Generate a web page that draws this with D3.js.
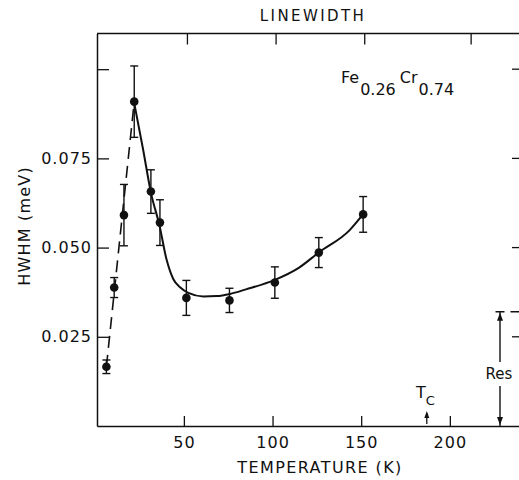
<!DOCTYPE html>
<html>
<head>
<meta charset="utf-8">
<script src="https://cdn.jsdelivr.net/npm/d3@7"></script>
<style>
  body { margin: 0; background: #fff; }
  text { font-family: "DejaVu Sans", sans-serif; fill: #111; }
</style>
</head>
<body>
<script>
// Measured linewidth (HWHM) of Fe0.26Cr0.74 versus temperature
const temperature = [6.3, 10.7, 16.2, 22.0, 31.4, 36.5, 51.4, 75.7, 101.3, 126.1, 151.1];
const hwhm        = [0.0166, 0.0388, 0.0591, 0.0909, 0.0657, 0.0570, 0.0359, 0.0352, 0.0402, 0.0486, 0.0593];
const hwhmErr     = [0.0019, 0.0028, 0.0086, 0.0100, 0.0061, 0.0064, 0.0049, 0.0034, 0.0044, 0.0042, 0.0050];

// Guide-to-the-eye curve through the high-temperature branch
const fitT = [22, 27, 31.5, 36.2, 40.2, 44, 48, 52.5, 61, 68.5, 76, 85, 101, 115, 126, 143.5, 151];
const fitW = [0.0905, 0.0775, 0.0652, 0.0563, 0.0467, 0.0412, 0.0388, 0.0373, 0.0363, 0.0364, 0.0370, 0.0383, 0.0409, 0.0444, 0.0486, 0.0549, 0.0593];

// Axis ticks
const xTicks = [50, 100, 150, 200];
const topTicks = [52, 102, 152, 212];
const yTicks = [0.025, 0.05, 0.075, 0.1];
const yLabelled = [0.025, 0.05, 0.075];

// Instrumental resolution and Curie temperature markers
const resolution = 0.032;
const curieT = 187;

const W = 519, H = 480;
const svg = d3.select("body").append("svg").attr("width", W).attr("height", H);

const x = d3.scaleLinear().domain([1, 239]).range([97, 519]);
const y = d3.scaleLinear().domain([0, 0.11]).range([426, 33.5]);

const ink = "#111";

// Bottom axis with inward ticks
const gx = svg.append("g").attr("transform", `translate(0,${y(0)})`)
  .call(d3.axisBottom(x).tickValues(xTicks).tickSize(-10).tickSizeOuter(0).tickPadding(11)
        .tickFormat(d3.format("d")));
gx.selectAll("text").style("font-size", "16px").style("letter-spacing", "1px");

// Left axis with inward ticks
const gy = svg.append("g").attr("transform", `translate(${x(1)},0)`)
  .call(d3.axisLeft(y).tickValues(yTicks).tickSize(-12).tickSizeOuter(0).tickPadding(5)
        .tickFormat(d => yLabelled.includes(d) ? d3.format(".3f")(d) : ""));
gy.selectAll("text").style("font-size", "16px").style("letter-spacing", "1px");

[gx, gy].forEach(g => {
  g.select(".domain").attr("stroke", ink).attr("stroke-width", 1.5);
  g.selectAll(".tick line").attr("stroke", ink).attr("stroke-width", 1.3);
});

// Top frame line with its ticks
svg.append("line").attr("x1", x(1)).attr("x2", W).attr("y1", y(0.11)).attr("y2", y(0.11))
  .attr("stroke", ink).attr("stroke-width", 1.5);
svg.selectAll(".ttick").data(topTicks).join("line")
  .attr("x1", d => x(d)).attr("x2", d => x(d))
  .attr("y1", y(0.11)).attr("y2", y(0.11) + 11)
  .attr("stroke", ink).attr("stroke-width", 1.3);

// Right-hand ticks (frame edge lies just outside the view)
svg.selectAll(".rtick").data(yTicks).join("line")
  .attr("x1", W - 7).attr("x2", W)
  .attr("y1", d => y(d)).attr("y2", d => y(d))
  .attr("stroke", ink).attr("stroke-width", 1.3);

// Title
svg.append("text").attr("x", 313).attr("y", 21).attr("text-anchor", "middle")
  .style("font-size", "15px").style("letter-spacing", "2.4px").text("LINEWIDTH");

// Axis titles
svg.append("text").attr("x", 320).attr("y", 473).attr("text-anchor", "middle")
  .style("font-size", "16px").style("letter-spacing", "1.4px").text("TEMPERATURE (K)");
svg.append("text").attr("transform", "translate(30,226) rotate(-90)").attr("text-anchor", "middle")
  .style("font-size", "16px").style("letter-spacing", "1.2px").text("HWHM (meV)");

// Composition label
const comp = svg.append("text").attr("x", 341).attr("y", 83).style("font-size", "16px");
comp.append("tspan").text("Fe");
comp.append("tspan").attr("dy", 12).attr("dx", 1).text("0.26");
comp.append("tspan").attr("dy", -12).attr("dx", 4).text("Cr");
comp.append("tspan").attr("dy", 12).attr("dx", 1).text("0.74");

// Dashed low-temperature rise: first point to the peak
svg.append("line")
  .attr("x1", x(temperature[0])).attr("y1", y(hwhm[0]))
  .attr("x2", x(temperature[3])).attr("y2", y(hwhm[3]))
  .attr("stroke", ink).attr("stroke-width", 1.6).attr("stroke-dasharray", "12,7");

// Solid curve
const fit = fitT.map((t, i) => [t, fitW[i]]);
svg.append("path").datum(fit)
  .attr("d", d3.line().x(d => x(d[0])).y(d => y(d[1])).curve(d3.curveMonotoneX))
  .attr("fill", "none").attr("stroke", ink).attr("stroke-width", 2);

// Error bars and points
const pts = temperature.map((t, i) => ({ t, w: hwhm[i], e: hwhmErr[i] }));
const eb = svg.append("g").attr("stroke", ink).attr("stroke-width", 1.4);
pts.forEach(p => {
  const cx = x(p.t), y0 = y(p.w - p.e), y1 = y(p.w + p.e);
  eb.append("line").attr("x1", cx).attr("x2", cx).attr("y1", y0).attr("y2", y1);
  eb.append("line").attr("x1", cx - 4).attr("x2", cx + 4).attr("y1", y0).attr("y2", y0);
  eb.append("line").attr("x1", cx - 4).attr("x2", cx + 4).attr("y1", y1).attr("y2", y1);
});
svg.selectAll(".pt").data(pts).join("circle")
  .attr("cx", d => x(d.t)).attr("cy", d => y(d.w)).attr("r", 4.3).attr("fill", ink);

// Resolution bar
const rx = 500, rTop = y(resolution), rBot = y(0);
const resG = svg.append("g").attr("stroke", ink).attr("stroke-width", 1.4);
resG.append("line").attr("x1", rx).attr("x2", rx).attr("y1", rTop).attr("y2", 362);
resG.append("line").attr("x1", rx).attr("x2", rx).attr("y1", 386).attr("y2", rBot);
resG.append("line").attr("x1", rx - 4.5).attr("x2", W).attr("y1", rTop).attr("y2", rTop)
  .attr("stroke-dasharray", "9,6");
svg.append("path").attr("d", `M${rx},${rTop + 1}L${rx - 3},${rTop + 9}L${rx + 3},${rTop + 9}Z`).attr("fill", ink);
svg.append("path").attr("d", `M${rx},${rBot - 1}L${rx - 3},${rBot - 9}L${rx + 3},${rBot - 9}Z`).attr("fill", ink);
svg.append("text").attr("x", 499).attr("y", 379).attr("text-anchor", "middle")
  .style("font-size", "15px").text("Res");

// Curie temperature marker
const tcx = x(curieT);
svg.append("line").attr("x1", tcx).attr("x2", tcx).attr("y1", 413).attr("y2", 424)
  .attr("stroke", ink).attr("stroke-width", 1.3);
svg.append("path").attr("d", `M${tcx},${411}L${tcx - 2.5},${418}L${tcx + 2.5},${418}Z`).attr("fill", ink);
const tc = svg.append("text").attr("x", 416).attr("y", 398).style("font-size", "16px");
tc.append("tspan").text("T");
tc.append("tspan").attr("dy", 7).attr("dx", 0).style("font-size", "13px").text("C");
</script>
</body>
</html>
